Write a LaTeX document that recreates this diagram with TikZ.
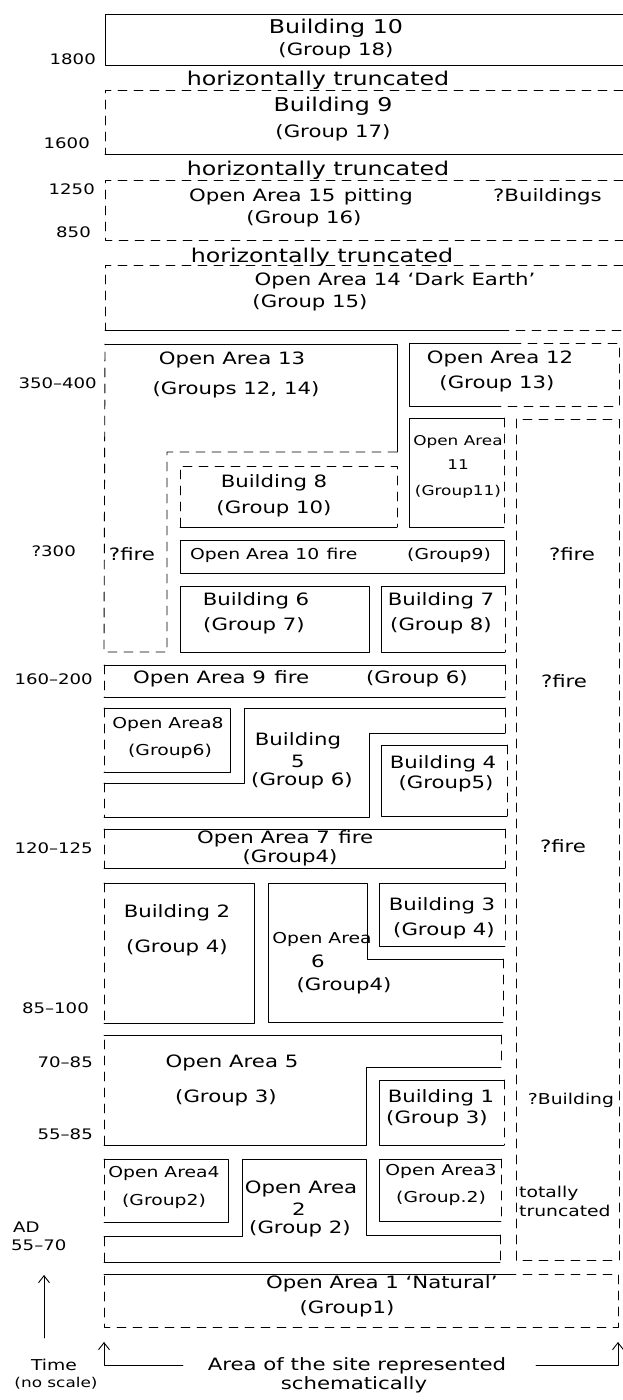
\documentclass[tikz,border=0pt]{standalone}
\usepackage{fontspec}
\setmainfont{DejaVu Sans}[FakeStretch=1.25]
\usetikzlibrary{arrows.meta}
\newcommand\myfbig{\fontsize{19}{21}\selectfont}
\newcommand\myfbase{\fontsize{17}{19}\selectfont}
\newcommand\myfsmall{\fontsize{15}{17}\selectfont}
\newcommand\myftiny{\fontsize{13.5}{15}\selectfont}
\newcommand\myfyear{\fontsize{14.5}{16}\selectfont}
\begin{document}
\begin{tikzpicture}[x=1pt,y=-1pt,
  sl/.style={draw=black, line width=0.9pt, line cap=round, line join=round},
  dl/.style={sl, dash pattern=on 9pt off 7pt},
  txt/.style={inner sep=0pt, font=\myfbase},
  txtbig/.style={inner sep=0pt, font=\myfbig},
  txtsm/.style={inner sep=0pt, font=\myfsmall},
  txttiny/.style={inner sep=0pt, font=\myftiny},
  txtyr/.style={inner sep=0pt, font=\myfyear},
  tip/.style={-{Straight Barb[length=7pt,width=11pt,line width=0.9pt]}}
]
\useasboundingbox (0,0) rectangle (623,1400);

% ---------- Building 10
\draw[sl] (623,14) -- (105,14) -- (105,65) -- (623,65);
% ---------- Building 9
\draw[dl] (623,90) -- (105,90) -- (105,154);
\draw[sl] (105,154) -- (623,154);
% ---------- Open Area 15
\draw[dl] (623,180) -- (105,180) -- (105,240) -- (623,240);
% ---------- Open Area 14
\draw[dl] (623,265) -- (105,265) -- (105,330);
\draw[sl] (105,330) -- (500,330);
\draw[dl] (500,330) -- (623,330);
% ---------- Open Area 12
\draw[sl] (512,343) -- (409,343) -- (409,406) -- (500,406);
\draw[dl] (512,343) -- (619,343) -- (619,406) -- (500,406);
% ---------- Open Area 13
\draw[sl] (105,344) -- (397,344) -- (397,452);
\draw[dl] (397,452) -- (167,452) -- (167,652) -- (104,652) -- (105,344);
% ---------- Building 8
\draw[dl] (180,527) -- (180,466) -- (397,466) -- (397,527);
\draw[sl] (180,527) -- (397,527);
% ---------- Open Area 11
\draw[sl] (504,418) -- (409,418) -- (409,527) -- (504,527);
\draw[dl] (504,418) -- (504,527);
% ---------- right column
\draw[dl] (516,419) rectangle (619,1260);
% ---------- Open Area 10
\draw[sl] (180,540) rectangle (504,573);
% ---------- Building 6
\draw[sl] (180,586) rectangle (369,652);
% ---------- Building 7
\draw[sl] (505,586) -- (381,586) -- (381,652) -- (505,652);
\draw[dl] (505,586) -- (505,652);
% ---------- Open Area 9
\draw[sl] (104,665) -- (505,665);
\draw[sl] (104,697) -- (505,697);
\draw[dl] (104,665) -- (104,697);
\draw[dl] (505,665) -- (505,697);
% ---------- Open Area 8
\draw[sl] (104,708) -- (230,708) -- (230,772) -- (104,772);
\draw[dl] (104,708) -- (104,772);
% ---------- Building 5
\draw[sl] (505,708) -- (244,708) -- (244,783) -- (104,783);
\draw[dl] (104,783) -- (104,817);
\draw[sl] (104,817) -- (369,817) -- (369,733) -- (505,733);
\draw[dl] (505,733) -- (505,708);
% ---------- Building 4
\draw[sl] (507,745) -- (381,745) -- (381,816) -- (507,816);
\draw[dl] (507,745) -- (507,816);
% ---------- Open Area 7
\draw[sl] (104,829) -- (505,829);
\draw[sl] (104,868) -- (505,868);
\draw[dl] (104,829) -- (104,868);
\draw[dl] (505,829) -- (505,868);
% ---------- Building 2
\draw[sl] (104,883) -- (254,883) -- (254,1023) -- (104,1023);
\draw[dl] (104,883) -- (104,1023);
% ---------- Open Area 6
\draw[sl] (503,1022) -- (268,1022) -- (268,883) -- (367,883) -- (367,959) -- (503,959);
\draw[dl] (503,959) -- (503,1022);
% ---------- Building 3
\draw[sl] (505,883) -- (379,883) -- (379,946) -- (505,946);
\draw[dl] (505,883) -- (505,946);
% ---------- Open Area 5
\draw[sl] (104,1035) -- (501,1035);
\draw[dl] (501,1035) -- (501,1067);
\draw[sl] (501,1067) -- (366,1067) -- (366,1145) -- (104,1145);
\draw[dl] (104,1145) -- (104,1035);
% ---------- Building 1
\draw[sl] (504,1080) -- (379,1080) -- (379,1145) -- (504,1145);
\draw[dl] (504,1080) -- (504,1145);
% ---------- Open Area 4
\draw[sl] (104,1159) -- (228,1159) -- (228,1222) -- (104,1222);
\draw[dl] (104,1159) -- (104,1222);
% ---------- Open Area 2
\draw[sl] (104,1236) -- (242,1236) -- (242,1159) -- (366,1159) -- (366,1235) -- (500,1235);
\draw[dl] (500,1235) -- (500,1262);
\draw[sl] (500,1262) -- (104,1262);
\draw[dl] (104,1262) -- (104,1236);
% ---------- Open Area 3
\draw[sl] (501,1159) -- (379,1159) -- (379,1221) -- (501,1221);
\draw[dl] (501,1159) -- (501,1221);
% ---------- Open Area 1
\draw[sl] (104,1274) -- (507,1274);
\draw[dl] (507,1274) -- (618,1274) -- (618,1327) -- (104,1327) -- (104,1274);

% ---------- texts, top section
\node[txtbig] (b10a) at (336,28) {Building 10};
\node[txt] (b10b) at (336,51) {(Group 18)};
\node[txtbig] (ht1) at (318,80) {horizontally truncated};
\node[txtbig] (b9a) at (333,106) {Building 9};
\node[txt] (b9b) at (333,133) {(Group 17)};
\node[txtbig] (ht2) at (318,170) {horizontally truncated};
\node[txt, anchor=west] (oa15a) at (189,197) {Open Area 15\enspace pitting};
\node[txt, anchor=west] (oa15q) at (493,197) {?Buildings};
\node[txt] (oa15b) at (304,219) {(Group 16)};
\node[txtbig] (ht3) at (322,257) {horizontally truncated};
\node[txt] (oa14a) at (395,281) {Open Area 14 ‘Dark Earth’};
\node[txt] (oa14b) at (310,303) {(Group 15)};

% ---------- year labels
\node[txtyr, anchor=east] (y1800) at (96,59) {1800};
\node[txtyr, anchor=east] (y1600) at (90,143) {1600};
\node[txtyr, anchor=east] (y1250) at (95,189) {1250};
\node[txtyr, anchor=east] (y850) at (91,232) {850};
\node[txtyr, anchor=east] (y350) at (97,383) {350–400};
\node[txtyr, anchor=east] (y300) at (76,551) {?300};
\node[txtyr, anchor=east] (y160) at (93,679) {160–200};
\node[txtyr, anchor=east] (y120) at (93,848) {120–125};
\node[txtyr, anchor=east] (y85) at (89,1008) {85–100};
\node[txtyr, anchor=east] (y70) at (93,1062) {70–85};
\node[txtyr, anchor=east] (y55) at (93,1134) {55–85};
\node[txtyr, anchor=west] (yad) at (13,1227) {AD};
\node[txtyr, anchor=west] (y5570) at (11,1245) {55–70};

% ---------- middle texts
\node[txt] (oa13a) at (232,360) {Open Area 13};
\node[txt] (oa13b) at (236,390) {(Groups 12, 14)};
\node[txt] (oa12a) at (500,359) {Open Area 12};
\node[txt] (oa12b) at (497,384) {(Group 13)};
\node[txt] (b8a) at (274,483) {Building 8};
\node[txt] (b8b) at (274,509) {(Group 10)};
\node[txttiny] (oa11a) at (458,442) {Open Area};
\node[txttiny] (oa11n) at (458,465) {11};
\node[txttiny] (oa11b) at (458,492) {(Group11)};
\node[txt] (fireL) at (132,554) {?fire};
\node[txt] (fireR1) at (572,554) {?fire};
\node[txtsm, anchor=west] (oa10a) at (190,555) {Open Area 10\enspace fire};
\node[txtsm, anchor=west] (oa10b) at (407,555) {(Group9)};
\node[txt] (b6a) at (256,601) {Building 6};
\node[txt] (b6b) at (254,626) {(Group 7)};
\node[txt] (b7a) at (441,601) {Building 7};
\node[txt] (b7b) at (441,626) {(Group 8)};
\node[txt, anchor=west] (oa9a) at (133,679) {Open Area 9\enspace fire};
\node[txt, anchor=west] (oa9b) at (366,679) {(Group 6)};
\node[txt] (fireR2) at (564,681) {?fire};
\node[txtsm] (oa8a) at (168,724) {Open Area8};
\node[txtsm] (oa8b) at (170,751) {(Group6)};
\node[txt] (b5a) at (298,741) {Building};
\node[txt] (b5n) at (298,761) {5};
\node[txt] (b5b) at (302,781) {(Group 6)};
\node[txt] (b4a) at (443,764) {Building 4};
\node[txt] (b4b) at (446,784) {(Group5)};
\node[txt, anchor=west] (oa7a) at (197,839) {Open Area 7\enspace fire};
\node[txt] (oa7b) at (290,858) {(Group4)};
\node[txt] (fireR3) at (563,846) {?fire};
\node[txt] (b2a) at (177,913) {Building 2};
\node[txt] (b2b) at (177,948) {(Group 4)};
\node[txtsm] (oa6a) at (322,939) {Open Area};
\node[txt] (oa6n) at (318,961) {6};
\node[txt] (oa6b) at (344,986) {(Group4)};
\node[txt] (b3a) at (442,906) {Building 3};
\node[txt] (b3b) at (444,931) {(Group 4)};
\node[txt] (oa5a) at (232,1063) {Open Area 5};
\node[txt] (oa5b) at (226,1098) {(Group 3)};
\node[txt] (b1a) at (441,1098) {Building 1};
\node[txt] (b1b) at (437,1119) {(Group 3)};
\node[txtsm] (bq) at (571,1100) {?Building};
\node[txtsm] (oa4a) at (164,1173) {Open Area4};
\node[txtsm] (oa4b) at (164,1201) {(Group2)};
\node[txt] (oa2a) at (301,1189) {Open Area};
\node[txt] (oa2n) at (299,1209) {2};
\node[txt] (oa2b) at (300,1229) {(Group 2)};
\node[txtsm] (oa3a) at (441,1171) {Open Area3};
\node[txtsm] (oa3b) at (441,1198) {(Group.2)};
\node[txtsm, anchor=west] (tt1) at (519,1193) {totally};
\node[txtsm, anchor=west] (tt2) at (519,1211) {truncated};
\node[txt, anchor=west] (oa1a) at (266,1284) {Open Area 1 ‘Natural’};
\node[txt] (oa1b) at (347,1309) {(Group1)};

% ---------- bottom axis
\node[txtsm] (time) at (54,1365) {Time};
\node[txttiny] (nosc) at (56,1383) {(no scale)};
\node[txt] (area) at (357,1366) {Area of the site represented};
\node[txt] (schem) at (354,1385) {schematically};

\coordinate (tA) at (44,1338);
\coordinate (tB) at (44,1275);
\draw[sl, tip] (tA) -- (tB);

\coordinate (lA) at (183,1365);
\coordinate (lC) at (104,1365);
\coordinate (lB) at (104,1342);
\draw[sl, tip] (lA) -- (lC) -- (lB);

\coordinate (rA) at (536,1365);
\coordinate (rC) at (618,1365);
\coordinate (rB) at (618,1342);
\draw[sl, tip] (rA) -- (rC) -- (rB);
\end{tikzpicture}
\end{document}
